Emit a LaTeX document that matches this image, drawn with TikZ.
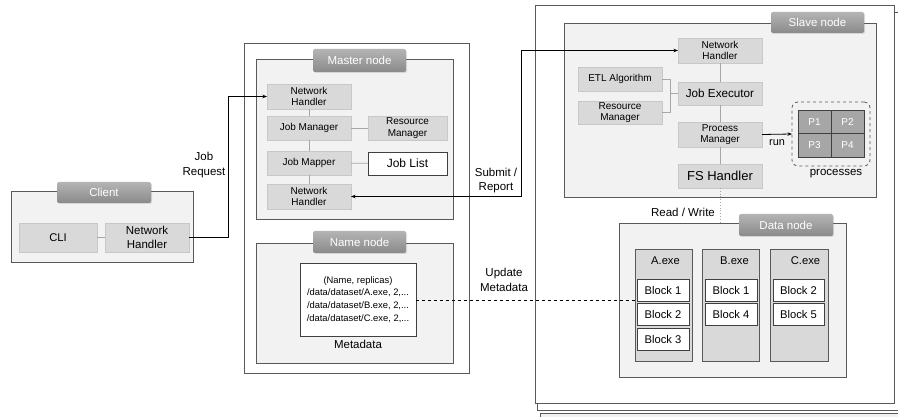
\documentclass[tikz,border=0pt]{standalone}
\usepackage{fontspec}
\setmainfont{Liberation Sans}
\usetikzlibrary{shadows,arrows.meta}
\definecolor{panel}{HTML}{F2F2F2}
\definecolor{edge}{HTML}{595959}
\definecolor{gbox}{HTML}{D9D9D9}
\definecolor{gedge}{HTML}{C8C8C8}
\definecolor{conn}{HTML}{A6A6A6}
\definecolor{pfill}{HTML}{A6A6A6}
\definecolor{pedge}{HTML}{404040}
\definecolor{tabtop}{HTML}{B4B4B4}
\definecolor{tabbot}{HTML}{8A8A8A}
\begin{document}
\begin{tikzpicture}[x=1pt,y=-1pt,
  sz/.style 2 args={minimum width=#1, minimum height=#2, inner sep=0pt, outer sep=0pt},
  whitebox/.style={draw=edge, fill=white, line width=0.7pt},
  panelbox/.style={draw=edge, fill=panel, line width=0.7pt},
  tab/.style={rounded corners=2pt, top color=tabtop, bottom color=tabbot, text=white,
    font=\fontsize{11.5}{13}\selectfont, drop shadow={opacity=0.25, shadow xshift=1pt, shadow yshift=-1pt}},
  gray/.style={fill=gbox, draw=gedge, line width=0.5pt, align=center, font=\fontsize{10}{11.6}\selectfont},
  pbox/.style={fill=pfill, draw=pedge, line width=0.8pt, text=white, font=\fontsize{10}{12}\selectfont},
  col/.style={fill=gbox, draw=edge, line width=0.7pt},
  blk/.style={fill=white, draw=pedge, line width=0.7pt, font=\fontsize{11.2}{13}\selectfont},
  lbl/.style={align=center, font=\fontsize{11.5}{14.5}\selectfont, inner sep=0pt},
  cn/.style={draw=conn, line width=0.8pt},
  arr/.style={draw=black, line width=0.8pt, -{Stealth[length=4.5pt,width=3.5pt]}}
]
\useasboundingbox (0,0) rectangle (898,417);

% ---------- slave-side stacked sheets ----------
\node[panelbox, sz={370pt}{20pt}] (sheet3) at (725,423) {};
\node[whitebox, sz={370pt}{398pt}] (sheet2) at (722,211) {};
\node[whitebox, sz={359pt}{398pt}] (slaveouter) at (714.5,204) {};

% ---------- Client ----------
\node[panelbox, sz={182pt}{71pt}] (clientbox) at (102,226.5) {};
\node[tab, sz={94pt}{21pt}] (clienttab) at (104,192.5) {Client};
\node[gray, sz={78pt}{29pt}, font=\fontsize{11.2}{13}\selectfont] (cli) at (58,237.5) {CLI};
\node[gray, sz={84pt}{29pt}, font=\fontsize{11.5}{14}\selectfont] (cnh) at (147,237.5) {Network\\Handler};
\draw[cn] (cli) -- (cnh);

% ---------- Master outer ----------
\node[whitebox, sz={225pt}{330pt}] (masterouter) at (356.5,208) {};
\node[panelbox, sz={197pt}{160pt}] (masterbox) at (354.5,139) {};
\node[tab, sz={93pt}{23pt}] (mastertab) at (359.5,60.5) {Master node};
\node[gray, sz={84pt}{25pt}] (mnh1) at (309,96.5) {Network\\Handler};
\node[gray, sz={84pt}{24pt}] (mjm) at (309,128) {Job Manager};
\node[gray, sz={79pt}{24pt}] (mrm) at (407.5,128) {Resource\\Manager};
\node[gray, sz={84pt}{24pt}] (mjmap) at (309,163) {Job Mapper};
\node[whitebox, draw=pedge, sz={79pt}{23pt}, font=\fontsize{12}{14}\selectfont] (mjl) at (407.5,163.5) {Job List};
\node[gray, sz={84pt}{25pt}] (mnh2) at (309,196.5) {Network\\Handler};
\draw[cn] (mnh1) -- (mjm);
\draw[cn] (mjm) -- (mjmap);
\draw[cn] (mjmap) -- (mnh2);
\draw[cn] (mjm) -- (mrm);
\draw[cn] (mjmap) -- (mjl);

% ---------- Name node ----------
\node[panelbox, sz={197pt}{120pt}] (namebox) at (354.5,303) {};
\node[tab, sz={93pt}{22pt}] (nametab) at (359.5,242) {Name node};
\node[whitebox, draw=pedge, sz={116pt}{73pt}, align=center, font=\fontsize{9.4}{12.8}\selectfont] (meta) at (358,299.5)
  {(Name, replicas)\\/data/dataset/A.exe, 2,...\\/data/dataset/B.exe, 2,...\\/data/dataset/C.exe, 2,...};
\node[lbl] (metalbl) at (358,344) {Metadata};

% ---------- Slave node ----------
\node[panelbox, sz={312pt}{174pt}] (slavebox) at (720,110) {};
\node[tab, sz={93pt}{21pt}] (slavetab) at (817.5,22.5) {Slave node};
\node[gray, sz={84pt}{25pt}] (snh) at (720,50.5) {Network\\Handler};
\node[gray, sz={84pt}{23pt}, font=\fontsize{11.7}{13}\selectfont] (sje) at (720,93.5) {Job Executor};
\node[gray, sz={84pt}{24pt}] (setl) at (620,79) {ETL Algorithm};
\node[gray, sz={84pt}{23pt}] (srm) at (620,112.5) {Resource\\Manager};
\node[gray, sz={84pt}{25pt}] (spm) at (720,134.5) {Process\\Manager};
\node[gray, sz={84pt}{24pt}, font=\fontsize{13}{15}\selectfont] (sfs) at (720,176) {FS Handler};
\draw[cn] (snh) -- (sje);
\draw[cn] (sje) -- (spm);
\draw[cn] (spm) -- (sfs);
\coordinate (br) at (670,93.5);
\draw[cn] (setl.east) -| (br);
\draw[cn] (srm.east) -| (br);
\draw[cn] (br) -- (sje.west);

\node[draw=edge, dashed, rounded corners=6pt, line width=0.8pt, sz={78pt}{64pt}] (procs) at (831,134) {};
\node[pbox, sz={33pt}{23.5pt}] (p1) at (814.5,121.75) {P1};
\node[pbox, sz={33pt}{23.5pt}] (p2) at (847.5,121.75) {P2};
\node[pbox, sz={33pt}{23.5pt}] (p3) at (814.5,145.25) {P3};
\node[pbox, sz={33pt}{23.5pt}] (p4) at (847.5,145.25) {P4};
\node[lbl] (proclbl) at (836,174) {processes};
\draw[arr] (spm.east) -- (procs.west);
\node[lbl, font=\fontsize{10.9}{13}\selectfont] (runlbl) at (777,143) {run};

% ---------- Data node ----------
\node[panelbox, sz={227pt}{154pt}] (databox) at (732.5,300) {};
\node[tab, sz={94pt}{22pt}] (datatab) at (786,225) {Data node};
\node[col, sz={57pt}{112pt}] (cola) at (663.5,305) {};
\node[col, sz={57pt}{112pt}] (colb) at (730.5,305) {};
\node[col, sz={58pt}{112pt}] (colc) at (799,305) {};
\node[lbl, font=\fontsize{11.2}{13}\selectfont] (la) at (665.5,261) {A.exe};
\node[lbl, font=\fontsize{11.2}{13}\selectfont] (lb) at (734.5,261) {B.exe};
\node[lbl, font=\fontsize{11.2}{13}\selectfont] (lc) at (805.5,261) {C.exe};
\node[blk, sz={52pt}{22pt}] (a1) at (663,290) {Block 1};
\node[blk, sz={52pt}{22pt}] (a2) at (663,314) {Block 2};
\node[blk, sz={52pt}{22pt}] (a3) at (663,339) {Block 3};
\node[blk, sz={52pt}{22pt}] (b1) at (731,290) {Block 1};
\node[blk, sz={52pt}{22pt}] (b4) at (731,314) {Block 4};
\node[blk, sz={51pt}{22pt}] (c2) at (798.5,290) {Block 2};
\node[blk, sz={51pt}{22pt}] (c5) at (798.5,314) {Block 5};

% ---------- connectors ----------
\coordinate (jr1) at (228,237.5);
\coordinate (jr2) at (228,96.5);
\draw[arr] (cnh.east) -- (jr1) -- (jr2) -- (mnh1.west);
\node[lbl] (jrlbl) at (204,165) {Job\\Request};

\coordinate (sr1) at (521,196.5);
\coordinate (sr2) at (521,50.5);
\draw[arr, {Stealth[length=4.5pt,width=3.5pt]}-{Stealth[length=4.5pt,width=3.5pt]}] (mnh2.east) -- (sr1) -- (sr2) -- (snh.west);
\node[lbl] (srlbl) at (496,180.5) {Submit /\\Report};

\draw[black, dashed, line width=0.8pt] (meta.east |- 0,300) -- (cola.west |- 0,300);
\node[lbl] (umlbl) at (504,280) {Update\\Metadata};

\coordinate (rwend) at (720,223);
\draw[conn, dotted, line width=0.8pt] (sfs.south) -- (rwend);
\node[lbl] (rwlbl) at (683,212) {Read / Write};
\end{tikzpicture}
\end{document}
